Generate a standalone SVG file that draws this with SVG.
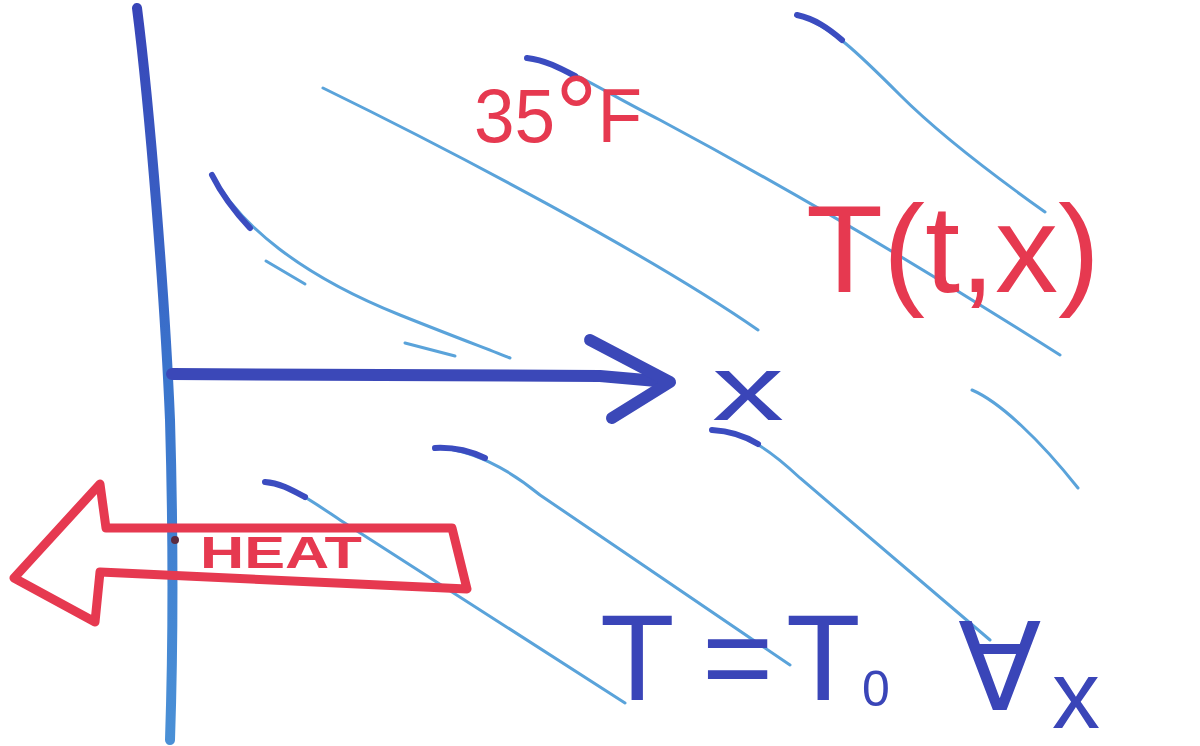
<svg xmlns="http://www.w3.org/2000/svg" width="1200" height="746" viewBox="0 0 1200 746">
<style>
.thin{fill:none;stroke:#5aa3da;stroke-width:3;stroke-linecap:round}
.head{fill:none;stroke:#3b4cc0;stroke-width:6;stroke-linecap:round}
.mark{fill:none;stroke:#3b48b8;stroke-linecap:round;stroke-linejoin:round}
.red{font-family:"Liberation Sans",Arial,sans-serif;fill:#e63950}
.blue{font-family:"Liberation Sans",Arial,sans-serif;fill:#3a45b8}
</style>
<defs>
<linearGradient id="wallGrad" x1="0" y1="0" x2="0" y2="1">
<stop offset="0" stop-color="#3845b8"/>
<stop offset="0.5" stop-color="#3a74cc"/>
<stop offset="1" stop-color="#4a90d6"/>
</linearGradient>
</defs>
<rect width="1200" height="746" fill="#ffffff"/>
<g id="curves">
<path class="thin" d="M797,15 C830,25 860,55 900,95 S1000,180 1045,212"/>
<path class="head" d="M797,15 C815,19 828,28 842,40"/>
<path class="thin" d="M527,58 C565,64 600,90 660,120 C800,195 950,285 1060,355"/>
<path class="head" d="M527,58 C545,60 560,68 575,76"/>
<path class="thin" d="M323,88 C450,150 650,255 758,330"/>
<path class="thin" d="M212,175 C240,225 300,275 400,315 C450,335 490,350 510,358"/>
<path class="head" d="M212,175 C222,195 235,212 250,228"/>
<path class="thin" d="M266,261 L305,284"/>
<path class="thin" d="M405,343 L455,356"/>
<path class="thin" d="M972,390 C1000,402 1040,440 1078,488"/>
<path class="thin" d="M712,430 C745,432 770,450 800,478 L990,640"/>
<path class="head" d="M712,430 C730,431 745,436 758,444"/>
<path class="thin" d="M435,448 C470,448 510,470 540,495 L790,665"/>
<path class="head" d="M435,448 C455,447 470,451 485,458"/>
<path class="thin" d="M265,482 C290,485 310,500 340,520 L625,703"/>
<path class="head" d="M265,482 C280,483 292,490 305,497"/>
</g>
<g id="wall">
<path d="M137,8 C150,110 165,300 170,420 C174,560 173,650 170,740" fill="none" stroke="url(#wallGrad)" stroke-width="10" stroke-linecap="round"/>
</g>
<g id="heat-arrow">
<polygon points="14,578 100,484 106,528 452,528 467,589 100,572 95,622" fill="none" stroke="#e63950" stroke-width="9" stroke-linejoin="round"/>
<circle cx="175" cy="540" r="4" fill="#5a2a40"/>
<text class="red" x="200" y="568" font-size="44" font-weight="bold" textLength="162" lengthAdjust="spacingAndGlyphs">HEAT</text>
</g>
<g id="x-axis">
<path class="mark" d="M172,374 L600,376 L668,382" stroke-width="12"/>
<path class="mark" d="M590,340 L670,382 L612,418" stroke-width="12"/>
<text class="blue" x="712" y="420" font-size="92" textLength="72" lengthAdjust="spacingAndGlyphs">x</text>
</g>
<g id="labels">
<text class="red" x="474" y="142" font-size="76" textLength="168" lengthAdjust="spacingAndGlyphs">35<tspan font-size="110" dy="10">°</tspan><tspan dy="-10">F</tspan></text>
<text class="red" x="806" y="292" font-size="125" textLength="294" lengthAdjust="spacingAndGlyphs">T(t,x)</text>
<text class="blue" font-size="122"><tspan x="600" y="700">T</tspan><tspan x="702" y="700">=</tspan><tspan x="786" y="700">T</tspan><tspan x="862" y="706" font-size="50">0</tspan><tspan x="958" y="710">∀</tspan><tspan x="1052" y="728" font-size="96">x</tspan></text>
</g>
</svg>
